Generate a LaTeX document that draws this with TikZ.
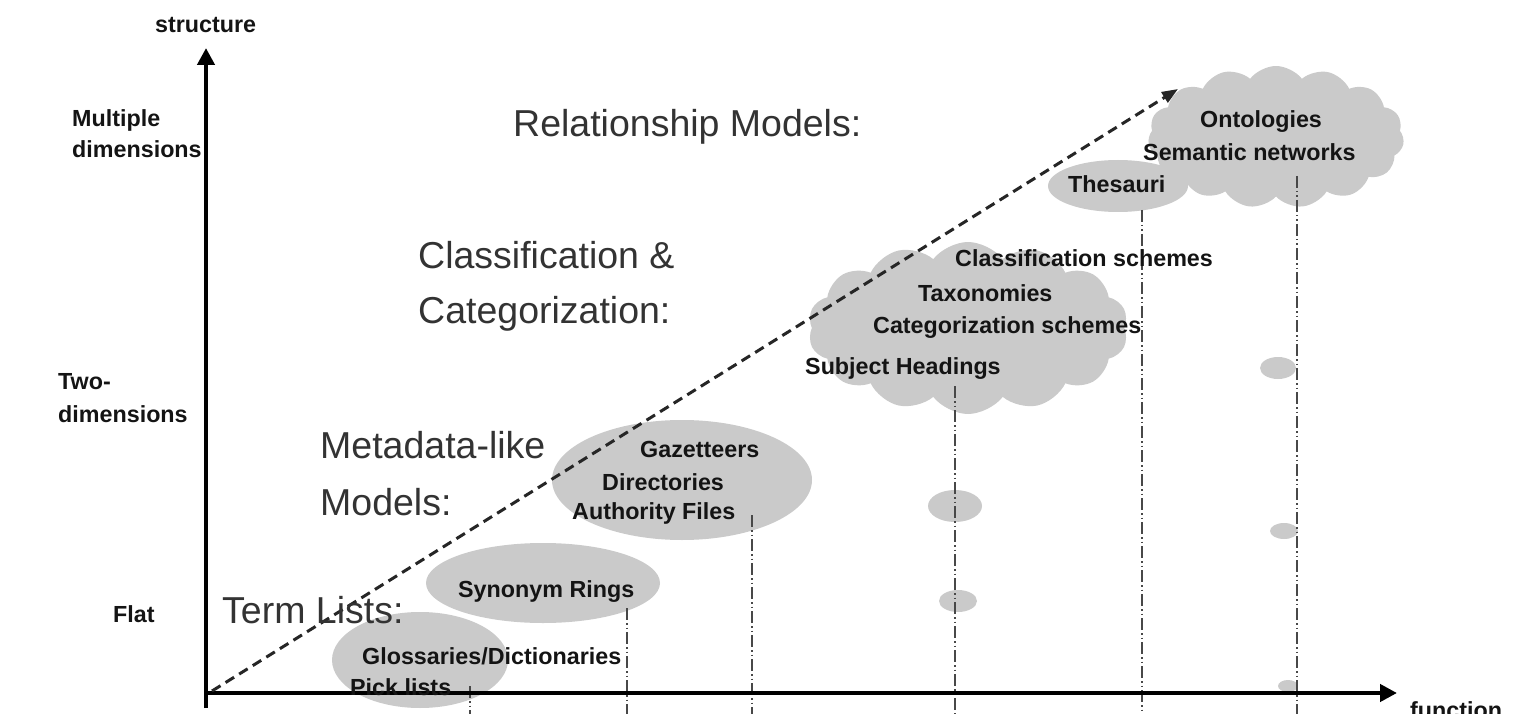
\documentclass[tikz,border=0pt]{standalone}
\usepackage{fontspec}
\setmainfont{Liberation Sans}
\usetikzlibrary{arrows.meta,shapes.symbols,shapes.geometric}
\definecolor{blobgray}{HTML}{CACACA}
\definecolor{bigtext}{HTML}{333333}
\definecolor{guidegray}{HTML}{484848}
\begin{document}
\begin{tikzpicture}[x=1pt,y=-1pt,
  lab/.style={font=\fontsize{23.3}{27}\selectfont\bfseries, text=black!92, inner sep=0pt, anchor=base west},
  big/.style={font=\fontsize{37.5}{44}\selectfont, text=bigtext, inner sep=0pt, anchor=base west},
  blob/.style={fill=blobgray, draw=none, inner sep=0pt},
  oval/.style={blob, ellipse},
  puff/.style={blob, cloud, cloud ignores aspect, cloud puffs=#1, cloud puff arc=105},
  guide/.style={draw=guidegray, line width=2.8pt, dash pattern=on 12pt off 3pt on 1.5pt off 3pt on 1.5pt off 3pt},
  axis/.style={draw=black, line width=4.5pt, -{Triangle[length=17pt,width=17pt]}},
  trend/.style={draw=black!85, line width=3pt, dash pattern=on 10pt off 6pt, -{Triangle[length=16pt,width=12pt]}}
]
\path[use as bounding box] (0,0) rectangle (1518,714);

% grey shapes
\node[oval, minimum width=176pt, minimum height=96pt] (glossblob) at (420,660) {};
\node[oval, minimum width=234pt, minimum height=80pt] (synblob) at (543,583) {};
\node[oval, minimum width=260pt, minimum height=120pt] (gazblob) at (682,480) {};
\node[puff=14, minimum width=320pt, minimum height=172pt] (classblob) at (968,328) {};
\node[oval, minimum width=140pt, minimum height=52pt] (thesblob) at (1118,186) {};
\node[puff=15, minimum width=256pt, minimum height=142pt] (ontoblob) at (1276,137) {};
\node[oval, minimum width=54pt, minimum height=32pt] (dotA) at (955,506) {};
\node[oval, minimum width=38pt, minimum height=22pt] (dotB) at (958,601) {};
\node[oval, minimum width=36pt, minimum height=22pt] (dotC) at (1278,368) {};
\node[oval, minimum width=28pt, minimum height=16pt] (dotD) at (1284,531) {};
\node[oval, minimum width=20pt, minimum height=12pt] (dotE) at (1288,686) {};

% guide lines
\coordinate (g1t) at (470,686); \coordinate (g1b) at (470,714);
\coordinate (g2t) at (627,608); \coordinate (g2b) at (627,714);
\coordinate (g3t) at (752,515); \coordinate (g3b) at (752,714);
\coordinate (g4t) at (955,386); \coordinate (g4b) at (955,714);
\coordinate (g5t) at (1142,210); \coordinate (g5b) at (1142,714);
\coordinate (g6t) at (1297,176); \coordinate (g6b) at (1297,714);
\foreach \i in {1,...,6} \draw[guide] (g\i t) -- (g\i b);

% axes
\coordinate (ybot) at (206,708);
\coordinate (ytip) at (206,48);
\coordinate (origin) at (204,693);
\coordinate (xtip) at (1397,693);
\draw[axis] (ybot) -- (ytip);
\draw[axis] (origin) -- (xtip);

% trend arrow
\coordinate (tstart) at (212,691);
\coordinate (tend) at (1178,89);
\draw[trend] (tstart) -- (tend);

% axis labels
\node[lab] (structure) at (155,33) {structure};
\node[lab] (function) at (1410,718) {function};
\node[lab] (multi1) at (72,127) {Multiple};
\node[lab] (multi2) at (72,158) {dimensions};
\node[lab] (two1) at (58,389) {Two-};
\node[lab] (two2) at (58,422) {dimensions};
\node[lab] (flat) at (113,622) {Flat};

% category headings
\node[big] (relmod) at (513,137) {Relationship Models:};
\node[big] (class1) at (418,268) {Classification \&};
\node[big] (class2) at (418,323) {Categorization:};
\node[big] (meta1) at (320,458) {Metadata-like};
\node[big] (meta2) at (320,515) {Models:};
\node[big] (term) at (222,623) {Term Lists:};

% item labels
\node[lab] (onto) at (1200,128) {Ontologies};
\node[lab] (semnet) at (1143,161) {Semantic networks};
\node[lab] (thes) at (1068,193) {Thesauri};
\node[lab] (clsch) at (955,266) {Classification schemes};
\node[lab] (taxo) at (918,301) {Taxonomies};
\node[lab] (catsch) at (873,333) {Categorization schemes};
\node[lab] (subj) at (805,374) {Subject Headings};
\node[lab] (gaz) at (640,457) {Gazetteers};
\node[lab] (dir) at (602,490) {Directories};
\node[lab] (auth) at (572,519) {Authority Files};
\node[lab] (syn) at (458,597) {Synonym Rings};
\node[lab] (gloss) at (362,664) {Glossaries/Dictionaries};
\node[lab] (pick) at (350,695) {Pick lists};
\end{tikzpicture}
\end{document}
